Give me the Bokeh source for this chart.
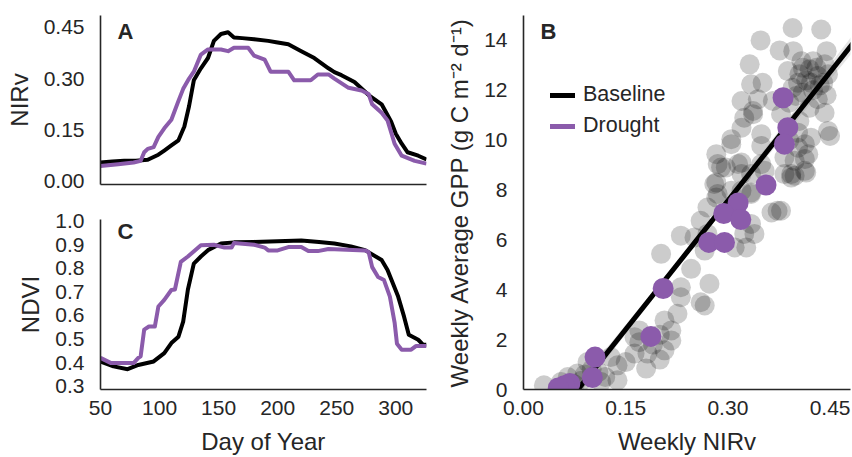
import numpy as np
from bokeh.plotting import figure
from bokeh.layouts import row, column
from bokeh.models import FixedTicker, PrintfTickFormatter, Label, Legend, LegendItem
from bokeh.embed import file_html
from bokeh.resources import INLINE

# ---------------- data ----------------
# Panel A: NIRv time series
nirv_base_day = [50, 60, 70, 80, 90, 99, 104, 110, 116, 121, 125, 129, 135, 141, 146, 152, 158, 163,
                 170, 180, 192, 200, 209, 220, 231, 243, 248, 254, 265, 277, 288, 296, 300, 305, 310, 319, 326]
nirv_base_val = [0.055, 0.058, 0.060, 0.060, 0.063, 0.078, 0.090, 0.105, 0.120, 0.160, 0.220, 0.295, 0.330,
                 0.360, 0.410, 0.430, 0.435, 0.420, 0.418, 0.415, 0.410, 0.405, 0.400, 0.380, 0.360, 0.330,
                 0.319, 0.310, 0.290, 0.252, 0.225, 0.175, 0.139, 0.110, 0.085, 0.075, 0.064]

nirv_dr_day = [50, 65, 78, 84, 87, 90, 95, 99, 104, 110, 116, 120, 125, 129, 135, 141, 152, 158, 163, 175,
               180, 189, 194, 209, 214, 228, 234, 243, 248, 260, 271, 277, 280, 288, 293, 299, 305, 316, 326]
nirv_dr_val = [0.045, 0.050, 0.055, 0.060, 0.085, 0.095, 0.100, 0.130, 0.155, 0.180, 0.235, 0.270, 0.300,
               0.320, 0.370, 0.385, 0.385, 0.380, 0.390, 0.390, 0.367, 0.355, 0.320, 0.320, 0.295, 0.295,
               0.312, 0.312, 0.300, 0.273, 0.265, 0.255, 0.225, 0.200, 0.178, 0.110, 0.075, 0.060, 0.052]

# Panel C: NDVI time series
ndvi_base_day = [50, 61, 73, 82, 95, 104, 110, 116, 120, 124, 129, 135, 141, 152, 163, 180, 200, 220, 235,
                 248, 262, 274, 288, 293, 302, 307, 311, 319, 323, 326]
ndvi_base_val = [0.405, 0.384, 0.372, 0.390, 0.405, 0.440, 0.483, 0.510, 0.574, 0.710, 0.820, 0.850, 0.877,
                 0.905, 0.910, 0.912, 0.915, 0.918, 0.912, 0.905, 0.893, 0.877, 0.835, 0.793, 0.680, 0.595,
                 0.518, 0.497, 0.476, 0.476]

ndvi_dr_day = [50, 59, 78, 82, 84, 87, 91, 96, 99, 104, 110, 113, 118, 124, 135, 146, 155, 161, 163, 180,
               189, 192, 200, 209, 220, 226, 234, 243, 274, 277, 280, 285, 290, 295, 299, 301, 305, 313, 317, 326]
ndvi_dr_val = [0.420, 0.398, 0.398, 0.420, 0.427, 0.540, 0.553, 0.553, 0.638, 0.666, 0.708, 0.710, 0.827,
               0.850, 0.898, 0.900, 0.888, 0.888, 0.907, 0.900, 0.888, 0.876, 0.876, 0.890, 0.890, 0.873,
               0.873, 0.882, 0.876, 0.869, 0.805, 0.763, 0.750, 0.680, 0.570, 0.480, 0.455, 0.455, 0.470, 0.470]

# Panel B: weekly GPP vs weekly NIRv
base_nirv = [0.395, 0.437, 0.348, 0.376, 0.396, 0.445, 0.332, 0.408, 0.425, 0.442, 0.388, 0.405, 0.420,
             0.432, 0.447, 0.351, 0.334, 0.403, 0.422, 0.440, 0.320, 0.344, 0.366, 0.400, 0.432, 0.420,
             0.442, 0.324, 0.337, 0.378, 0.405, 0.305, 0.349, 0.403, 0.447,
             0.422, 0.403, 0.413, 0.398, 0.413, 0.373, 0.349, 0.334, 0.283, 0.305, 0.290, 0.315, 0.320,
             0.283, 0.285, 0.305, 0.334, 0.393, 0.383, 0.390, 0.320, 0.337,
             0.349, 0.320, 0.297, 0.285, 0.413, 0.418, 0.398, 0.450, 0.415, 0.393, 0.354, 0.383, 0.280,
             0.283, 0.334, 0.320, 0.270, 0.364, 0.378, 0.260, 0.334, 0.231, 0.251, 0.270, 0.324, 0.339,
             0.327, 0.310, 0.202, 0.266,
             0.246, 0.273, 0.231, 0.231, 0.260, 0.266, 0.226, 0.207, 0.170, 0.163, 0.217, 0.217, 0.207,
             0.163, 0.182, 0.180, 0.128, 0.138, 0.138, 0.114, 0.094, 0.079, 0.065, 0.030, 0.055,
             0.410, 0.430, 0.415, 0.395, 0.425, 0.410, 0.435, 0.390, 0.445,
             0.060, 0.075, 0.085, 0.090, 0.100, 0.110, 0.120,
             0.170, 0.190, 0.200, 0.200, 0.150]
base_gpp = [14.50, 14.44, 14.00, 13.60, 13.57, 13.57, 13.04, 13.17, 13.17, 13.04, 12.77, 12.64, 12.84,
            12.57, 12.64, 12.30, 12.24, 12.30, 12.30, 12.30, 11.57, 11.64, 11.57, 11.77, 11.64, 11.30,
            11.10, 10.90, 11.04, 11.04, 10.77, 10.04, 10.24, 10.30, 10.37,
            10.10, 9.70, 9.24, 8.57, 8.77, 7.17, 9.04, 8.64, 9.44, 9.84, 8.90, 9.04, 8.64,
            8.30, 7.84, 7.97, 7.84, 8.64, 9.30, 10.00, 10.50, 11.17,
            9.77, 9.10, 8.90, 9.04, 9.84, 9.44, 9.17, 10.17, 8.70, 8.50, 8.77, 8.64, 8.24,
            7.70, 7.90, 7.97, 7.30, 7.10, 7.17, 6.77, 6.64, 6.17, 6.10, 6.24, 6.24, 6.24,
            5.70, 5.70, 5.44, 5.57,
            4.84, 4.24, 4.10, 3.70, 3.50, 3.37, 3.04, 2.77, 2.37, 2.10, 2.37, 1.97, 1.57,
            1.44, 1.44, 0.84, 1.30, 0.97, 0.37, 0.30, 1.10, 0.64, 0.50, 0.17, 0.30,
            12.90, 12.90, 12.40, 12.10, 12.00, 11.90, 12.20, 11.50, 11.80,
            0.10, 0.20, 0.35, 0.60, 0.80, 0.70, 0.50,
            1.90, 1.80, 2.20, 1.20, 1.10]

drought_nirv = [0.381, 0.388, 0.383, 0.356, 0.315, 0.294, 0.319, 0.272, 0.295, 0.205, 0.187, 0.105,
                0.101, 0.068, 0.060, 0.051]
drought_gpp = [11.70, 10.50, 9.84, 8.20, 7.48, 7.06, 6.82, 5.90, 5.90, 4.05, 2.13, 1.30, 0.48, 0.24,
               0.15, 0.06]

# baseline linear fit (GPP = slope * NIRv + intercept)
fit_slope = 34.4
fit_intercept = -2.75
fit_x = [0.03, 0.25, 0.49]
fit_halfwidth = [0.30, 0.10, 0.35]

# tick definitions
nirv_ticks = [0.0, 0.15, 0.30, 0.45]
ndvi_ticks = [0.3, 0.4, 0.5, 0.6, 0.7, 0.8, 0.9, 1.0]
day_ticks = [50, 100, 150, 200, 250, 300]
gpp_ticks = [0, 2, 4, 6, 8, 10, 12, 14]

# ---------------- style ----------------
FONT = "Liberation Sans"
TXT = "#262626"
PURPLE = "#8b5bab"


def style(p):
    p.outline_line_color = None
    p.xgrid.visible = False
    p.ygrid.visible = False
    p.background_fill_color = "white"
    p.border_fill_color = "white"
    for ax in p.axis:
        ax.axis_line_color = TXT
        ax.axis_line_width = 1.6
        ax.major_tick_line_color = None
        ax.minor_tick_line_color = None
        ax.major_tick_out = 0
        ax.major_tick_in = 0
        ax.minor_tick_out = 0
        ax.minor_tick_in = 0
        ax.major_label_text_font = FONT
        ax.major_label_text_font_size = "21px"
        ax.major_label_text_color = TXT
        ax.axis_label_text_font = FONT
        ax.axis_label_text_font_size = "24px"
        ax.axis_label_text_font_style = "normal"
        ax.axis_label_text_color = TXT
    p.yaxis.major_label_standoff = 16
    p.yaxis.axis_label_standoff = 8
    p.xaxis.major_label_standoff = 11
    p.xaxis.axis_label_standoff = 10


def panel_label(p, txt, x, y):
    p.add_layout(Label(x=x, y=y, x_units="screen", y_units="screen", text=txt,
                       text_font=FONT, text_font_size="22px", text_font_style="bold",
                       text_color=TXT, text_baseline="middle", text_align="left"))


# ---------------- panel A ----------------
pA = figure(width=440, height=200, x_range=(50, 326), y_range=(-0.009, 0.484),
            output_backend="svg", toolbar_location=None,
            min_border_left=100, min_border_right=14, min_border_top=15, min_border_bottom=16)
pA.line(nirv_base_day, nirv_base_val, line_color="black", line_width=4, line_join="round")
pA.line(nirv_dr_day, nirv_dr_val, line_color=PURPLE, line_width=4, line_join="round")
style(pA)
pA.xaxis.ticker = FixedTicker(ticks=[])
pA.yaxis.ticker = FixedTicker(ticks=nirv_ticks)
pA.yaxis.formatter = PrintfTickFormatter(format="%.2f")
pA.yaxis.axis_label = "NIRv"
panel_label(pA, "A", 17, 153)

# ---------------- panel C ----------------
pC = figure(width=440, height=257, x_range=(50, 326), y_range=(0.286, 1.007),
            output_backend="svg", toolbar_location=None,
            min_border_left=100, min_border_right=14, min_border_top=19, min_border_bottom=67)
pC.line(ndvi_base_day, ndvi_base_val, line_color="black", line_width=4, line_join="round")
pC.line(ndvi_dr_day, ndvi_dr_val, line_color=PURPLE, line_width=4, line_join="round")
style(pC)
pC.xaxis.ticker = FixedTicker(ticks=day_ticks)
pC.yaxis.ticker = FixedTicker(ticks=ndvi_ticks)
pC.yaxis.formatter = PrintfTickFormatter(format="%.1f")
pC.yaxis.axis_label = "NDVI"
pC.xaxis.axis_label = "Day of Year"
panel_label(pC, "C", 17, 158)

# ---------------- panel B ----------------
pB = figure(width=412, height=457, x_range=(0, 0.48), y_range=(0, 15),
            output_backend="svg", toolbar_location=None,
            min_border_left=83, min_border_right=2, min_border_top=15, min_border_bottom=67)
pB.scatter(base_nirv, base_gpp, size=20, fill_color="black", fill_alpha=0.2, line_color=None)
fx = np.array(fit_x)
fy = fit_slope * fx + fit_intercept
fh = np.array(fit_halfwidth)
pB.varea(x=fx, y1=fy - fh, y2=fy + fh, fill_color="#999999", fill_alpha=0.25)
pB.line(fx, fy, line_color="black", line_width=5)
pB.scatter(drought_nirv, drought_gpp, size=21, fill_color=PURPLE, fill_alpha=1.0, line_color=None)
r_base = pB.line([np.nan], [np.nan], line_color="black", line_width=5, line_cap="round")
r_dr = pB.line([np.nan], [np.nan], line_color=PURPLE, line_width=5, line_cap="round")
style(pB)
pB.xaxis.ticker = FixedTicker(ticks=nirv_ticks)
pB.xaxis.formatter = PrintfTickFormatter(format="%.2f")
pB.yaxis.ticker = FixedTicker(ticks=gpp_ticks)
pB.xaxis.axis_label = "Weekly NIRv"
pB.yaxis.axis_label = "Weekly Average GPP (g C m\u207b\u00b2 d\u207b\u00b9)"
legend = Legend(items=[LegendItem(label="Baseline", renderers=[r_base]),
                       LegendItem(label="Drought", renderers=[r_dr])],
                location=(27, 251), border_line_color=None, background_fill_alpha=0,
                label_text_font=FONT, label_text_font_size="21.5px", label_text_color=TXT,
                glyph_width=25, label_standoff=8, spacing=6, padding=0, margin=0)
pB.add_layout(legend)
panel_label(pB, "B", 17, 358)

layout = row(column(pA, pC), pB)
open("out.html", "w").write(file_html(layout, INLINE))
